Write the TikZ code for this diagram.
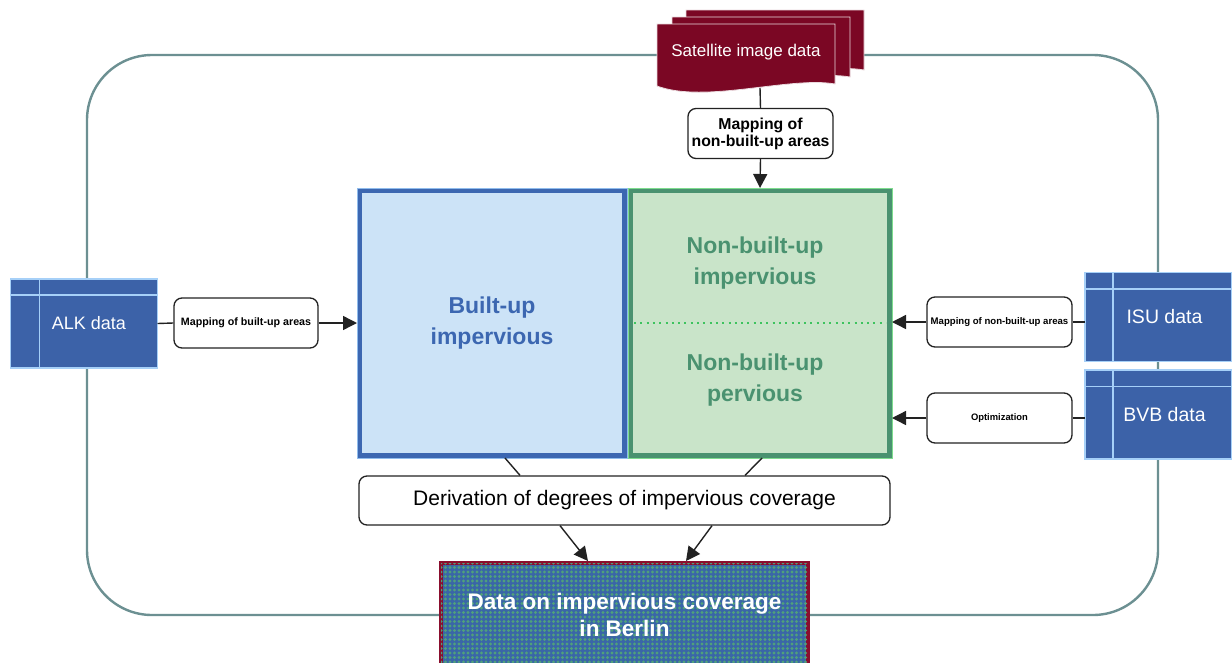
\documentclass[tikz,border=0pt]{standalone}
\usepackage{fontspec}
\setmainfont{Liberation Sans}
\usetikzlibrary{arrows.meta,patterns.meta}
\definecolor{loopc}{HTML}{6C9092}
\definecolor{satred}{HTML}{7B0724}
\definecolor{bluec}{HTML}{3C67B1}
\definecolor{bluefill}{HTML}{CCE3F7}
\definecolor{bluelight}{HTML}{90BCEC}
\definecolor{greenc}{HTML}{4A9270}
\definecolor{greenfill}{HTML}{C9E4C9}
\definecolor{greenlight}{HTML}{7EDC8E}
\definecolor{dotc}{HTML}{3DC35E}
\definecolor{dbfill}{HTML}{3C62A8}
\definecolor{dbline}{HTML}{A6D0F8}
\definecolor{datared}{HTML}{8A0E2E}
\definecolor{datablue}{HTML}{3A66A8}
\definecolor{datadot}{HTML}{4FA07C}
\definecolor{connc}{HTML}{222222}
\begin{document}
\begin{tikzpicture}[x=1pt,y=-1pt,
  loopline/.style={draw=loopc, line width=2.4},
  conn/.style={draw=connc, line width=1.4},
  arr/.style={conn, -{Triangle[length=14pt,width=14pt]}},
  smallbox/.style={draw=connc, line width=1.3, rounded corners=8, fill=white,
    align=center, inner sep=0, minimum width=145, minimum height=50},
  dbbox/.style={draw=dbline, line width=1.2, fill=dbfill, text=white, inner sep=0,
    outer sep=0, minimum width=147, minimum height=89},
  dbsep/.style={draw=dbline, line width=1.2},
  bigtext/.style={font=\bfseries\fontsize{23}{31}\selectfont, align=center},
  docshape/.style={fill=satred, draw=white!85!satred, line width=0.8}
]
\useasboundingbox (0,0) rectangle (1232,662);
\fill[white] (0,0) rectangle (1232,662);

% outer loop
\draw[loopline, rounded corners=65] (87,55) rectangle (1158,615);

% satellite documents
\foreach \dx/\dy in {29/-14, 15/-7, 0/0}{
  \begin{scope}[shift={(\dx,\dy)}]
    \path[docshape] (657,24) -- (835,24) -- (835,84)
      .. controls (790,76) and (705,104) .. (657,86) -- cycle;
  \end{scope}
}
\node[text=white, font=\fontsize{17}{20}\selectfont] (sat) at (746,52) {Satellite image data};
\coordinate (satbot) at (760,88);

% top mapping box
\node[smallbox, font=\bfseries\fontsize{15.8}{17}\selectfont] (maptop) at (760.5,133.5) {Mapping of\\non-built-up areas};

% central boxes
\node[draw=bluec, line width=5, fill=bluefill, minimum width=265, minimum height=265,
  text=bluec, bigtext] (blue) at (492,323) {Built-up\\impervious};
\draw[bluelight, line width=0.8] (blue.north west) rectangle (blue.south east);
\node[draw=greenc, line width=5, fill=greenfill, minimum width=259, minimum height=265] (green) at (760,323) {};
\draw[greenlight, line width=0.8] (green.north west) rectangle (green.south east);
\draw[dotc, line width=2, dash pattern=on 2pt off 4.3pt] ([xshift=6pt]green.west) -- ([xshift=-6pt]green.east);
\node[text=greenc, bigtext] (gimp) at (755,263) {Non-built-up\\impervious};
\node[text=greenc, bigtext] (gper) at (755,380) {Non-built-up\\pervious};

% left data
\node[dbbox, font=\fontsize{18}{20}\selectfont] (alk) at (84,323.5) {\hspace*{10pt}ALK data};
\draw[dbsep] ([yshift=-16pt]alk.north west) -- ([yshift=-16pt]alk.north east);
\draw[dbsep] ([xshift=29pt]alk.north west) -- ([xshift=29pt]alk.south west);
\node[smallbox, minimum width=144, font=\bfseries\fontsize{10.7}{12}\selectfont] (mapl) at (246,323) {Mapping of built-up areas};

% right data
\node[dbbox, font=\fontsize{19.5}{21}\selectfont] (isu) at (1158.5,317) {\hspace*{12pt}ISU data};
\draw[dbsep] ([yshift=-16.5pt]isu.north west) -- ([yshift=-16.5pt]isu.north east);
\draw[dbsep] ([xshift=28pt]isu.north west) -- ([xshift=28pt]isu.south west);
\node[dbbox, font=\fontsize{19.5}{21}\selectfont] (bvb) at (1158.5,414.5) {\hspace*{12pt}BVB data};
\draw[dbsep] ([yshift=-16.5pt]bvb.north west) -- ([yshift=-16.5pt]bvb.north east);
\draw[dbsep] ([xshift=28pt]bvb.north west) -- ([xshift=28pt]bvb.south west);
\node[smallbox, font=\bfseries\fontsize{9.6}{11}\selectfont] (mapr) at (999.5,322) {Mapping of non-built-up areas};
\node[smallbox, font=\bfseries\fontsize{9.4}{11}\selectfont] (opt) at (999.5,418) {Optimization};

% derivation and result
\node[smallbox, minimum width=531, minimum height=49, font=\fontsize{21}{24}\selectfont] (deriv) at (624.5,500.5) {Derivation of degrees of impervious coverage};
\node[draw=datared, line width=4, fill=datablue, minimum width=367, minimum height=104,
  postaction={pattern={Dots[radius=1.6pt,distance=4.5pt]}, pattern color=datadot},
  text=white, font=\bfseries\fontsize{22.5}{27}\selectfont, align=center] (data) at (624.5,615) {Data on impervious coverage\\in Berlin};

% connectors
\draw[conn] (satbot) -- (maptop.north);
\draw[arr] (maptop.south) -- (green.north);
\draw[conn] (alk.east) -- (mapl.west);
\draw[arr] (mapl.east) -- (blue.west);
\draw[conn] (isu.west |- mapr.east) -- (mapr.east);
\draw[arr] (mapr.west) -- (green.east |- mapr.west);
\draw[conn] (bvb.west |- opt.east) -- (opt.east);
\draw[arr] (opt.west) -- (green.east |- opt.west);
\draw[conn] ([xshift=13pt]blue.south) -- ([xshift=-104.5pt]deriv.north);
\draw[conn] ([xshift=2pt]green.south) -- ([xshift=120.5pt]deriv.north);
\draw[arr] ([xshift=-64.5pt]deriv.south) -- ([xshift=-36.5pt]data.north);
\draw[arr] ([xshift=87.5pt]deriv.south) -- ([xshift=61.5pt]data.north);
\end{tikzpicture}
\end{document}
